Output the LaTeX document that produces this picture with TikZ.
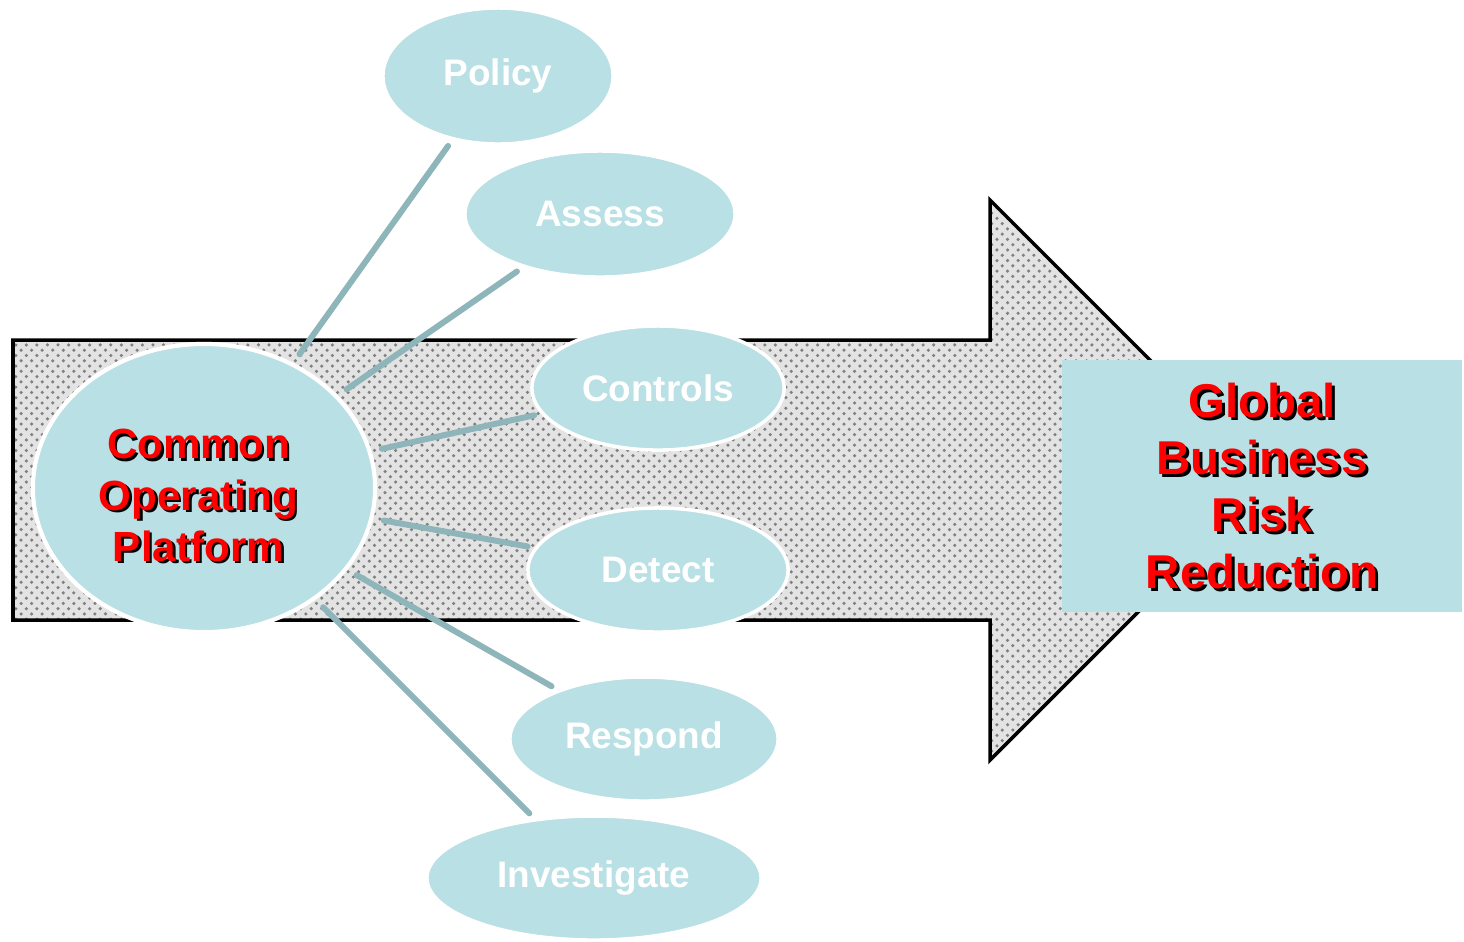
\documentclass[tikz,border=0pt]{standalone}
\usepackage{fontspec}
\setmainfont{Liberation Sans}
\usepackage{xcolor}
\usepackage{tikz}
\usetikzlibrary{positioning, shapes.geometric, patterns}

\definecolor{paleblue}{RGB}{185,224,228}
\definecolor{linkblue}{RGB}{141,181,186}

\begin{document}
\begin{tikzpicture}[x=0.01cm, y=-0.01cm,
    topic/.style={draw=white, line width=1pt, fill=paleblue, ellipse, inner sep=0pt,
        text=white, font=\bfseries\fontsize{10.5}{12}\selectfont},
    redtext/.style={align=center, text=red, font=\bfseries\fontsize{12}{14.6}\selectfont},
    link/.style={draw=linkblue, line width=1.7pt, line cap=round, shorten >=2pt, shorten <=3pt}]

    \useasboundingbox (0,0) rectangle (1464,941);

    % Big arrow
    \draw[line width=1pt, preaction={fill=gray!22}, pattern=crosshatch dots, pattern color=gray]
        (13,340) -- (990,340) -- (990,200) -- (1270,480) -- (990,760) -- (990,620) -- (13,620) -- cycle;

    % Result box
    \node[fill=paleblue, minimum width=4cm, minimum height=2.52cm, inner sep=0pt] (result) at (1262,486) {};
    \node[redtext, font=\bfseries\fontsize{13.5}{16.3}\selectfont, text=black] at ([xshift=0.03cm, yshift=-0.03cm]result.center) {Global\\Business\\Risk\\Reduction};
    \node[redtext, font=\bfseries\fontsize{13.5}{16.3}\selectfont] (resulttext) at (result.center) {Global\\Business\\Risk\\Reduction};

    % Central ellipse
    \node[topic, line width=1.2pt, minimum width=3.42cm, minimum height=2.88cm] (cop) at (204,488) {};
    \node[redtext, text=black] at ([xshift=-0.03cm, yshift=-0.1cm]cop.center) {Common\\Operating\\Platform};
    \node[redtext] (coptext) at ([xshift=-0.055cm, yshift=-0.075cm]cop.center) {Common\\Operating\\Platform};

    % Topic ellipses
    \node[topic, minimum width=2.3cm, minimum height=1.36cm] (policy) at (498,76) {Policy};
    \node[topic, minimum width=2.7cm, minimum height=1.26cm] (assess) at (600,214) {Assess};
    \node[topic, minimum width=2.52cm, minimum height=1.24cm] (controls) at (658,388) {Controls};
    \node[topic, minimum width=2.6cm, minimum height=1.24cm] (detect) at (658,570) {Detect};
    \node[topic, minimum width=2.68cm, minimum height=1.24cm] (respond) at (644,739) {Respond};
    \node[topic, minimum width=3.34cm, minimum height=1.24cm] (investigate) at (594,878) {Investigate};

    % Links
    \foreach \t in {policy, assess, controls, detect, respond, investigate}
        \draw[link] (cop) -- (\t);

\end{tikzpicture}
\end{document}
